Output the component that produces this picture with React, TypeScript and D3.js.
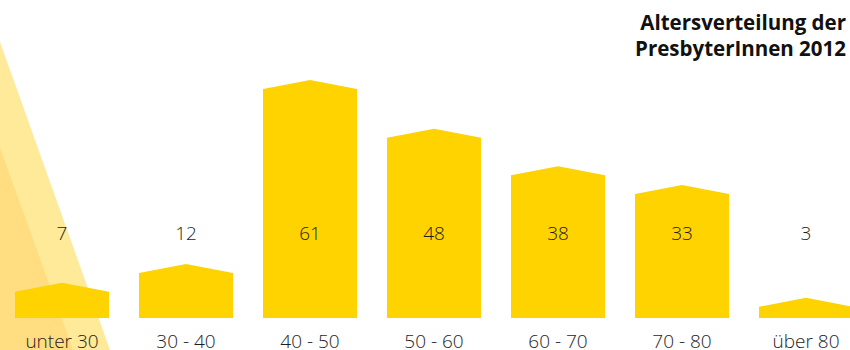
import React from "react";
import * as d3 from "d3";

const categories = ["unter 30", "30 - 40", "40 - 50", "50 - 60", "60 - 70", "70 - 80", "über 80"];
const values = [7, 12, 61, 48, 38, 33, 3];
const titleLines = ["Altersverteilung der", "PresbyterInnen 2012"];

const W = 850;
const H = 350;
const baseline = 318;
const roofRise = 9;

export default function App() {
  const x = d3
    .scaleBand<string>()
    .domain(categories)
    .range([15, 853])
    .paddingInner(30 / 124)
    .paddingOuter(0);
  const y = d3.scaleLinear().domain([0, 61]).range([baseline, baseline - 229]);
  const bw = x.bandwidth();

  const lightTri = d3.line()([[0, 42], [110, 350], [0, 350]]) + "Z";
  const darkTri = d3.line()([[0, 148], [73, 350], [0, 350]]) + "Z";

  return (
    <svg
      width={W}
      height={H}
      style={{ position: "absolute", left: 0, top: 0, display: "block" }}
      fontFamily="'Open Sans', sans-serif"
    >
      <rect width={W} height={H} fill="#ffffff" />
      <path d={lightTri} fill="#FFEA99" />
      <path d={darkTri} fill="#FFDD80" />
      {categories.map((c, i) => {
        const x0 = x(c)!;
        const x1 = x0 + bw;
        const top = y(values[i]);
        const pts: [number, number][] = [
          [x0, baseline],
          [x0, top],
          [x0 + bw / 2, top - roofRise],
          [x1, top],
          [x1, baseline],
        ];
        return <path key={"b" + c} d={d3.line()(pts) + "Z"} fill="#FFD300" />;
      })}
      {categories.map((c, i) => (
        <text
          key={"v" + c}
          x={x(c)! + bw / 2}
          y={240}
          textAnchor="middle"
          fontSize={19}
          fontWeight={300}
          fill="#1e1e1e"
        >
          {values[i]}
        </text>
      ))}
      {categories.map((c) => (
        <text
          key={"c" + c}
          x={x(c)! + bw / 2}
          y={347.5}
          textAnchor="middle"
          fontSize={19}
          fontWeight={300}
          fill="#1e1e1e"
        >
          {c}
        </text>
      ))}
      {titleLines.map((t, i) => (
        <text
          key={"t" + i}
          x={846}
          y={30 + i * 25.5}
          textAnchor="end"
          fontSize={20.5}
          fontWeight={700}
          fill="#111111"
        >
          {t}
        </text>
      ))}
    </svg>
  );
}
